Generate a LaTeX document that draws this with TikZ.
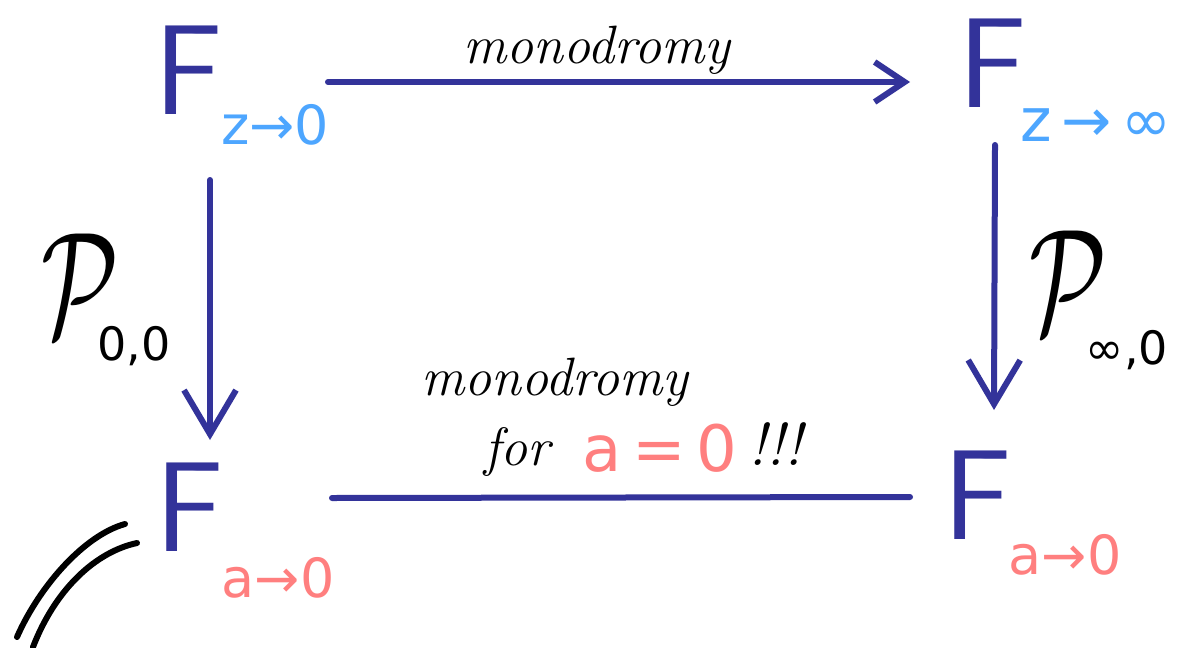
\documentclass[tikz,border=0pt]{standalone}
\usepackage{fontspec}
\newfontfamily\dvs{DejaVu Sans}
\usetikzlibrary{arrows.meta}
\definecolor{navy}{HTML}{33339A}
\definecolor{sky}{HTML}{4DA6FF}
\definecolor{rose}{HTML}{FF7F7F}
\begin{document}
\begin{tikzpicture}[x=0.5pt,y=-0.5pt,
  bigF/.style={text=navy, font=\sffamily\fontsize{64}{64}\selectfont, inner sep=0},
  subtxt/.style={font=\dvs\fontsize{27}{27}\selectfont, inner sep=0},
  hand/.style={font=\itshape\fontsize{27}{27}\selectfont, inner sep=0},
  calP/.style={inner sep=0},
  pidx/.style={font=\dvs\fontsize{23}{23}\selectfont, inner sep=0},
  arr/.style={navy, line width=3pt, line cap=round, line join=round,
    -{Straight Barb[length=15pt,width=20pt,line width=3pt]}},
  varr/.style={navy, line width=3pt, line cap=round, line join=round,
    -{Straight Barb[length=22pt,width=26pt,line width=3pt]}},
  plain/.style={navy, line width=3pt, line cap=round},
  stroke/.style={black, line width=3pt, line cap=round}]
\useasboundingbox[fill=white] (0,0) rectangle (1186,647);

% F nodes
\node[bigF] (Ftl) at (189,70) {F};
\node[bigF] (Ftr) at (993,63) {F};
\node[bigF] (Fbl) at (190,507) {F};
\node[bigF] (Fbr) at (978,495) {F};

% subscripts
\node[subtxt, text=sky] (stl) at (275,125) {z→0};
\node[subtxt, text=sky, font=\dvs\fontsize{30}{30}\selectfont] (str) at (1096,125) {z\,→\,∞};
\node[subtxt, text=rose] (sbl) at (278,578) {a→0};
\node[subtxt, text=rose] (sbr) at (1065,555) {a→0};

% connector end points
\coordinate (t1) at (328,82);
\coordinate (t2) at (910,82);
\coordinate (l1) at (210,180);
\coordinate (l2) at (210,440);
\coordinate (r1) at (995,145);
\coordinate (r2) at (994,410);
\coordinate (b1) at (332,498);
\coordinate (b2) at (910,497);

\draw[arr] (t1) -- (t2);
\draw[varr] (l1) -- (l2);
\draw[varr] (r1) -- (r2);
\draw[plain] (b1) -- (b2);

% labels
\node[hand] (mtop) at (597,50) {monodromy};
\node[hand] (mbot) at (555,382) {monodromy};
\node[hand] (for) at (517,452) {for};
\node[font=\dvs\fontsize{32}{32}\selectfont, inner sep=0, text=rose] (aeq) at (660,448) {a\,=\,0};
\node[hand, font=\fontsize{30}{30}\selectfont\itshape] (bang) at (775,444) {!!!};

% P labels
\node[calP] (P1) at (80,285) {\scalebox{5}[7.5]{$\mathcal{P}$}};
\node[pidx] (P1s) at (134,346) {0,0};
\node[calP] (P2) at (1068,282) {\scalebox{5}[7.5]{$\mathcal{P}$}};
\node[pidx] (P2s) at (1127,350) {∞,0};

% double curve
\draw[stroke] (125,524) .. controls (85,535) and (40,585) .. (17,637);
\draw[stroke] (137,543) .. controls (95,552) and (55,590) .. (33,647);
\end{tikzpicture}
\end{document}
